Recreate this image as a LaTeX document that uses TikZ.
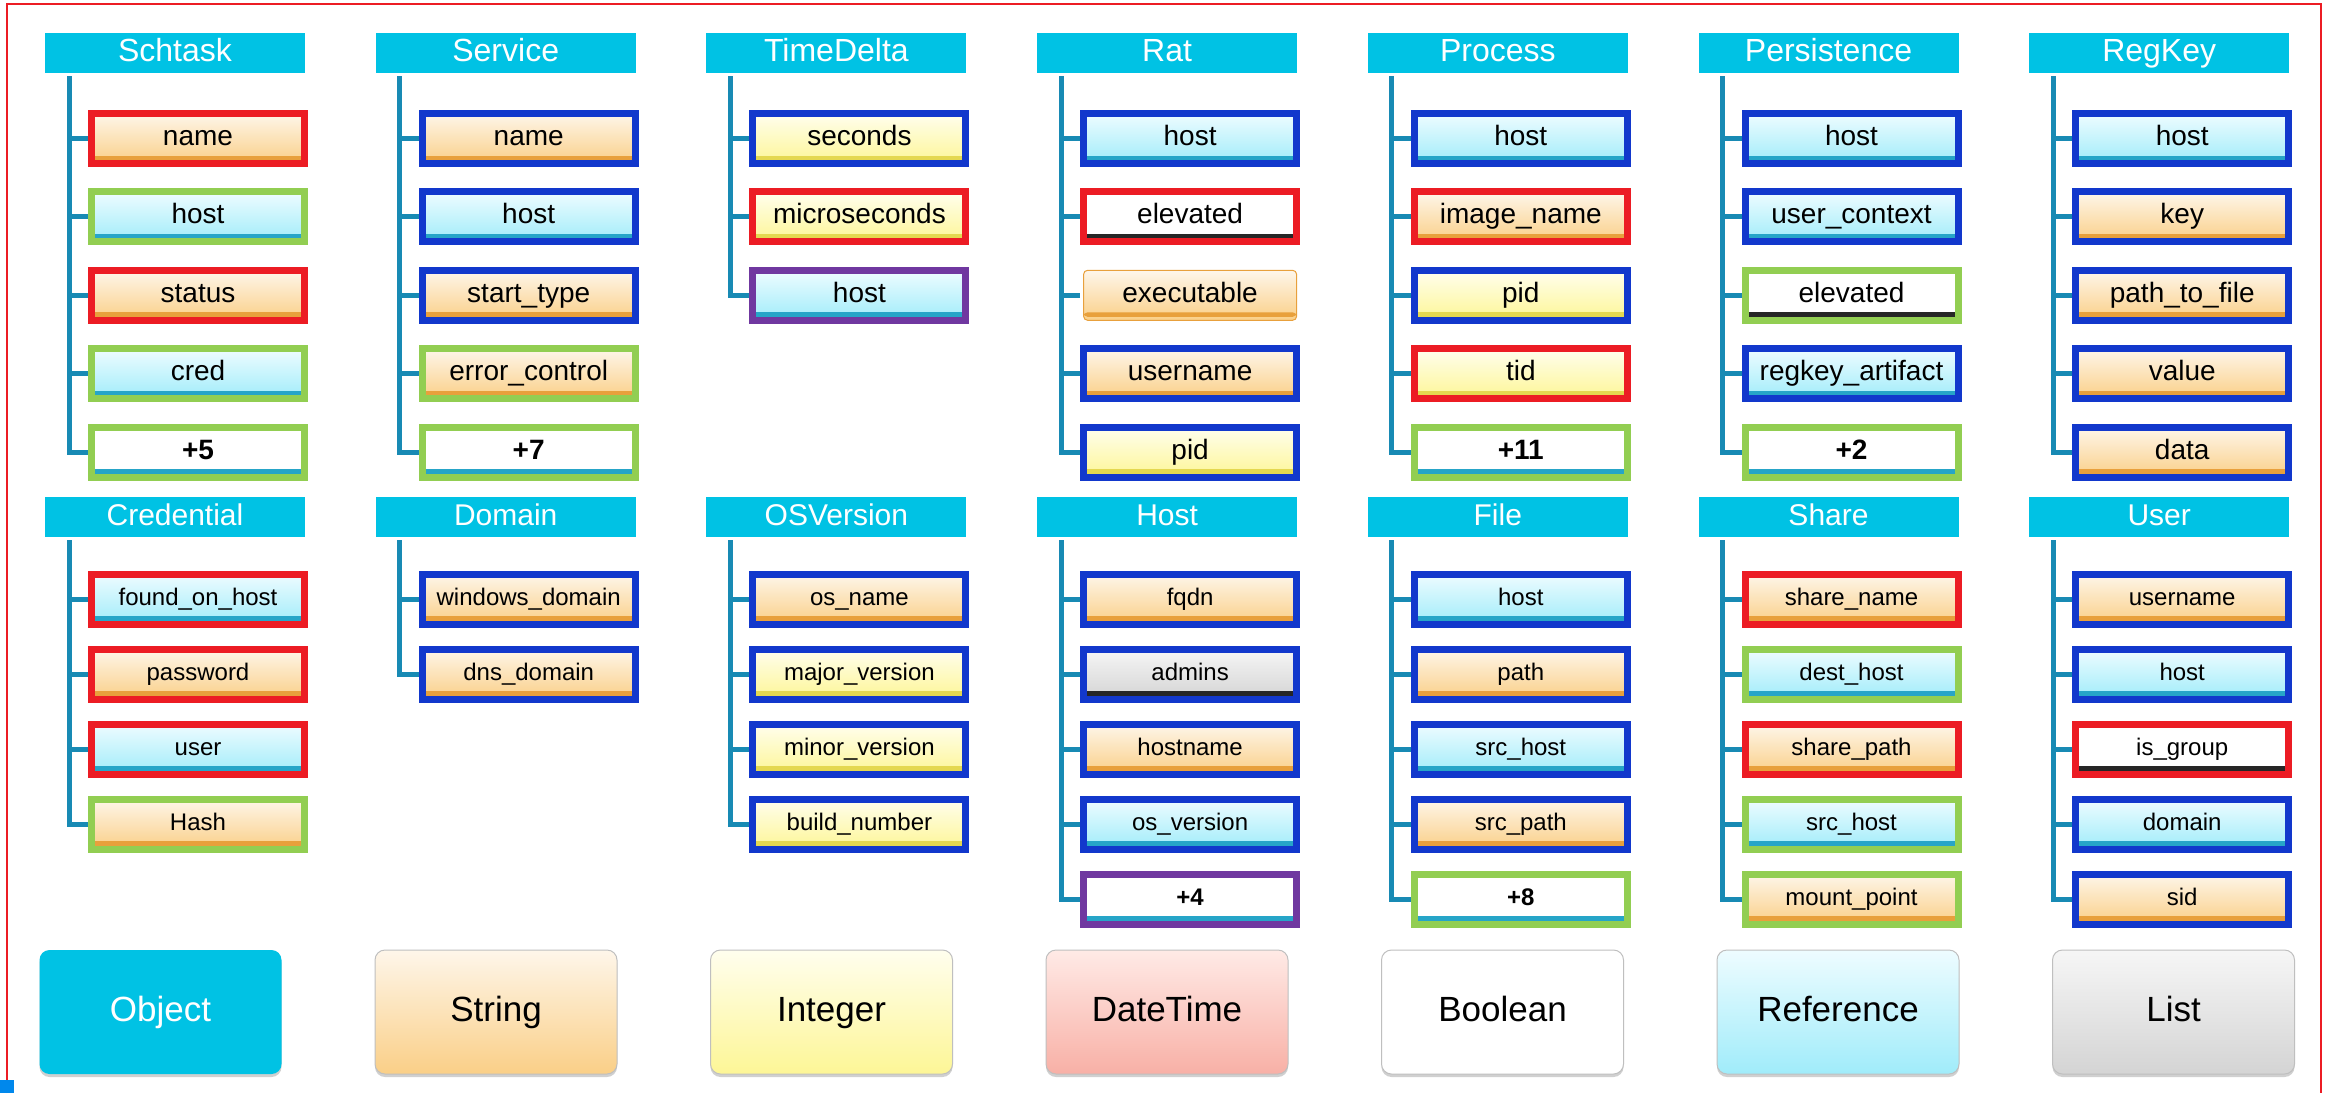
\documentclass[tikz,border=0pt]{standalone}
\usepackage{fontspec}
\setmainfont{Liberation Sans}
\usetikzlibrary{shadows}
\definecolor{cyanH}{RGB}{0,194,228}
\definecolor{connC}{RGB}{24,138,180}
\definecolor{cred}{RGB}{236,28,36}
\definecolor{cblue}{RGB}{18,56,204}
\definecolor{cgreen}{RGB}{146,206,82}
\definecolor{cpurple}{RGB}{112,56,160}
\definecolor{strT}{RGB}{254,246,234}
\definecolor{strB}{RGB}{250,207,135}
\definecolor{strL}{RGB}{232,160,60}
\definecolor{refT}{RGB}{238,252,255}
\definecolor{refB}{RGB}{160,236,250}
\definecolor{refL}{RGB}{38,165,200}
\definecolor{intT}{RGB}{255,254,238}
\definecolor{intB}{RGB}{253,246,150}
\definecolor{intL}{RGB}{228,216,80}
\definecolor{listT}{RGB}{246,246,246}
\definecolor{listB}{RGB}{212,212,212}
\definecolor{dtT}{RGB}{255,234,230}
\definecolor{dtB}{RGB}{248,176,166}
\newcommand\objcol[5]{%
  \pgfmathsetmacro\hx{45+330.7*#2}%
  \ifnum#3=1 \def\hy{53}\def\fy{138.5}\def\fp{78.4}\def\hf{32}\def\ff{28}\def\th{20pt}\def\td{6pt}\def\hth{23pt}\def\htd{7pt}%
  \else \def\hy{517}\def\fy{599}\def\fp{75}\def\hf{30}\def\ff{24}\def\th{17pt}\def\td{5pt}\def\hth{22pt}\def\htd{6pt}\fi
  \node[hdr, font=\fontsize{\hf}{\hf}\selectfont, text height=\hth, text depth=\htd] (#1) at (\hx+130,\hy) {#4};
  \coordinate (#1-top) at ([xshift=24pt,yshift=-3pt]#1.south west);
  \foreach \bc/\ty/\tx [count=\k from 0] in {#5} {
    \node[fld, \bc, \ty, font=\fontsize{\ff}{\ff}\selectfont, text height=\th, text depth=\td] (#1-\k) at (\hx+153, \fy+\fp*\k) {\tx};
    \draw[conn] (#1-top) |- ([xshift=-3.5pt]#1-\k.west);
  }
}
\begin{document}
\begin{tikzpicture}[x=1pt,y=-1pt,
  hdr/.style={fill=cyanH, text=white, minimum width=260pt, minimum height=40pt, inner sep=0pt, outer sep=0pt},
  conn/.style={draw=connC, line width=5pt},
  fld/.style={minimum width=213pt, minimum height=50pt, inner sep=0pt, outer sep=0pt, line width=7pt, text=black},
  bline/.style={path picture={\fill[#1] ([yshift=3.5pt]path picture bounding box.south west) rectangle ([yshift=8pt]path picture bounding box.south east);}},
  tstr/.style={top color=strT, bottom color=strB, bline=strL},
  tref/.style={top color=refT, bottom color=refB, bline=refL},
  tint/.style={top color=intT, bottom color=intB, bline=intL},
  tbool/.style={fill=white, bline=black!85},
  tlist/.style={top color=listT, bottom color=listB, bline=black!85},
  tmore/.style={fill=white, bline=refL},
  bR/.style={draw=cred}, bB/.style={draw=cblue}, bG/.style={draw=cgreen}, bP/.style={draw=cpurple},
  bN/.style={draw=strL, line width=1pt, rounded corners=4pt},
  legend/.style={minimum width=242pt, minimum height=124pt, inner sep=0pt, rounded corners=10pt,
    draw=black!25, line width=1pt, font=\fontsize{35}{35}\selectfont, text height=25pt, text depth=7pt,
    drop shadow={shadow xshift=0pt, shadow yshift=-3pt, opacity=0.3, fill=black!60}},
  lgobj/.style={fill=cyanH, draw=none, text=white},
  lgstr/.style={top color=strT, bottom color=strB},
  lgint/.style={top color=intT, bottom color=intB},
  lgdt/.style={top color=dtT, bottom color=dtB},
  lgbool/.style={fill=white},
  lgref/.style={top color=refT, bottom color=refB},
  lglist/.style={top color=listT, bottom color=listB},
]
\useasboundingbox (0,0) rectangle (2325,1093);
\fill[white] (0,0) rectangle (2325,1093);
\draw[cred, line width=2pt] (7,1093) -- (7,4) -- (2321,4) -- (2321,1093);
\fill[cyanH!70!blue] (0,1080) rectangle (14,1093);

\objcol{schtask}{0}{1}{Schtask}{bR/tstr/name, bG/tref/host, bR/tstr/status, bG/tref/cred, bG/tmore/\textbf{+5}}
\objcol{service}{1}{1}{Service}{bB/tstr/name, bB/tref/host, bB/tstr/start\_type, bG/tstr/error\_control, bG/tmore/\textbf{+7}}
\objcol{timedelta}{2}{1}{TimeDelta}{bB/tint/seconds, bR/tint/microseconds, bP/tref/host}
\objcol{rat}{3}{1}{Rat}{bB/tref/host, bR/tbool/elevated, bN/tstr/executable, bB/tstr/username, bB/tint/pid}
\objcol{process}{4}{1}{Process}{bB/tref/host, bR/tstr/image\_name, bB/tint/pid, bR/tint/tid, bG/tmore/\textbf{+11}}
\objcol{persistence}{5}{1}{Persistence}{bB/tref/host, bB/tref/user\_context, bG/tbool/elevated, bB/tref/regkey\_artifact, bG/tmore/\textbf{+2}}
\objcol{regkey}{6}{1}{RegKey}{bB/tref/host, bB/tstr/key, bB/tstr/path\_to\_file, bB/tstr/value, bB/tstr/data}

\objcol{credential}{0}{2}{Credential}{bR/tref/found\_on\_host, bR/tstr/password, bR/tref/user, bG/tstr/Hash}
\objcol{domain}{1}{2}{Domain}{bB/tstr/windows\_domain, bB/tstr/dns\_domain}
\objcol{osversion}{2}{2}{OSVersion}{bB/tstr/os\_name, bB/tint/major\_version, bB/tint/minor\_version, bB/tint/build\_number}
\objcol{host}{3}{2}{Host}{bB/tstr/fqdn, bB/tlist/admins, bB/tstr/hostname, bB/tref/os\_version, bP/tmore/\textbf{+4}}
\objcol{file}{4}{2}{File}{bB/tref/host, bB/tstr/path, bB/tref/src\_host, bB/tstr/src\_path, bG/tmore/\textbf{+8}}
\objcol{share}{5}{2}{Share}{bR/tstr/share\_name, bG/tref/dest\_host, bR/tstr/share\_path, bG/tref/src\_host, bG/tstr/mount\_point}
\objcol{user}{6}{2}{User}{bB/tstr/username, bB/tref/host, bR/tbool/is\_group, bB/tref/domain, bB/tstr/sid}

\foreach \lname/\lsty/\ltxt [count=\i from 0] in {lobj/lgobj/Object, lstr/lgstr/String, lint/lgint/Integer, ldt/lgdt/DateTime, lbool/lgbool/Boolean, lref/lgref/Reference, llist/lglist/List}
  \node[legend, \lsty] (\lname) at (160.5+335.5*\i, 1012) {\ltxt};
\end{tikzpicture}
\end{document}
